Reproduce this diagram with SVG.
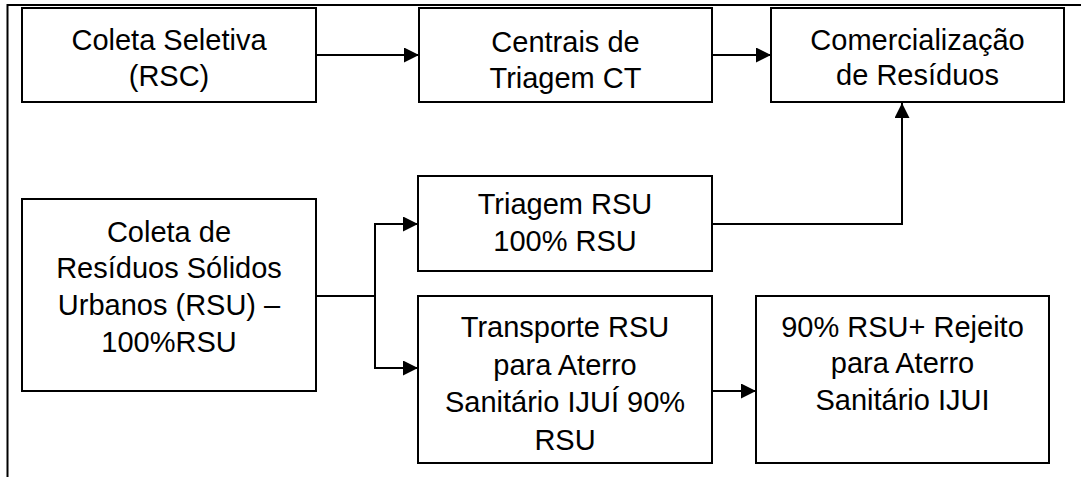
<svg xmlns="http://www.w3.org/2000/svg" width="1081" height="477" viewBox="0 0 1081 477">
<style>
.box{fill:#fff;stroke:#000;stroke-width:2}
.ln{fill:none;stroke:#000;stroke-width:2}
.t{font-family:"Liberation Sans",Arial,sans-serif;font-size:29px;fill:#000;text-anchor:middle}
</style>
<defs>
<marker id="ah" markerUnits="userSpaceOnUse" markerWidth="15" markerHeight="15" refX="15" refY="7.5" orient="auto">
<path d="M0,0 L15,7.5 L0,15 z" fill="#000"/>
</marker>
</defs>
<rect width="1081" height="477" fill="#fff"/>
<g id="frame">
<path class="ln" d="M7.5,477 V5 H1081"/>
</g>
<g id="connectors">
<path class="ln" d="M316,55 H419" marker-end="url(#ah)"/>
<path class="ln" d="M712,55 H771" marker-end="url(#ah)"/>
<path class="ln" d="M712,224 H902 V103" marker-end="url(#ah)"/>
<path class="ln" d="M316,296 H375"/>
<path class="ln" d="M375,224 V368"/>
<path class="ln" d="M374,224 H418" marker-end="url(#ah)"/>
<path class="ln" d="M374,368 H418" marker-end="url(#ah)"/>
<path class="ln" d="M712,391 H756" marker-end="url(#ah)"/>
</g>
<g id="n-coleta-seletiva">
<rect class="box" x="22" y="8" width="294" height="94"/>
<text class="t" x="169" y="50">Coleta Seletiva</text>
<text class="t" x="169" y="86">(RSC)</text>
</g>
<g id="n-centrais">
<rect class="box" x="419" y="8" width="293" height="94"/>
<text class="t" x="565.5" y="52">Centrais de</text>
<text class="t" x="565.5" y="88">Triagem CT</text>
</g>
<g id="n-comercializacao">
<rect class="box" x="771" y="8" width="293" height="94"/>
<text class="t" x="917.5" y="50">Comercialização</text>
<text class="t" x="917.5" y="85">de Resíduos</text>
</g>
<g id="n-coleta-rsu">
<rect class="box" x="22" y="199" width="294" height="192"/>
<text class="t" x="169" y="242">Coleta de</text>
<text class="t" x="169" y="278">Resíduos Sólidos</text>
<text class="t" x="169" y="315">Urbanos (RSU) –</text>
<text class="t" x="169" y="352">100%RSU</text>
</g>
<g id="n-triagem-rsu">
<rect class="box" x="418" y="176" width="294" height="95"/>
<text class="t" x="565" y="214">Triagem RSU</text>
<text class="t" x="565" y="251">100% RSU</text>
</g>
<g id="n-transporte">
<rect class="box" x="418" y="296" width="294" height="167"/>
<text class="t" x="565" y="337">Transporte RSU</text>
<text class="t" x="565" y="375">para Aterro</text>
<text class="t" x="565" y="412">Sanitário IJUÍ 90%</text>
<text class="t" x="565" y="450">RSU</text>
</g>
<g id="n-aterro">
<rect class="box" x="756" y="296" width="293" height="167"/>
<text class="t" x="902.5" y="337">90% RSU+ Rejeito</text>
<text class="t" x="902.5" y="373">para Aterro</text>
<text class="t" x="902.5" y="410">Sanitário IJUI</text>
</g>
</svg>
